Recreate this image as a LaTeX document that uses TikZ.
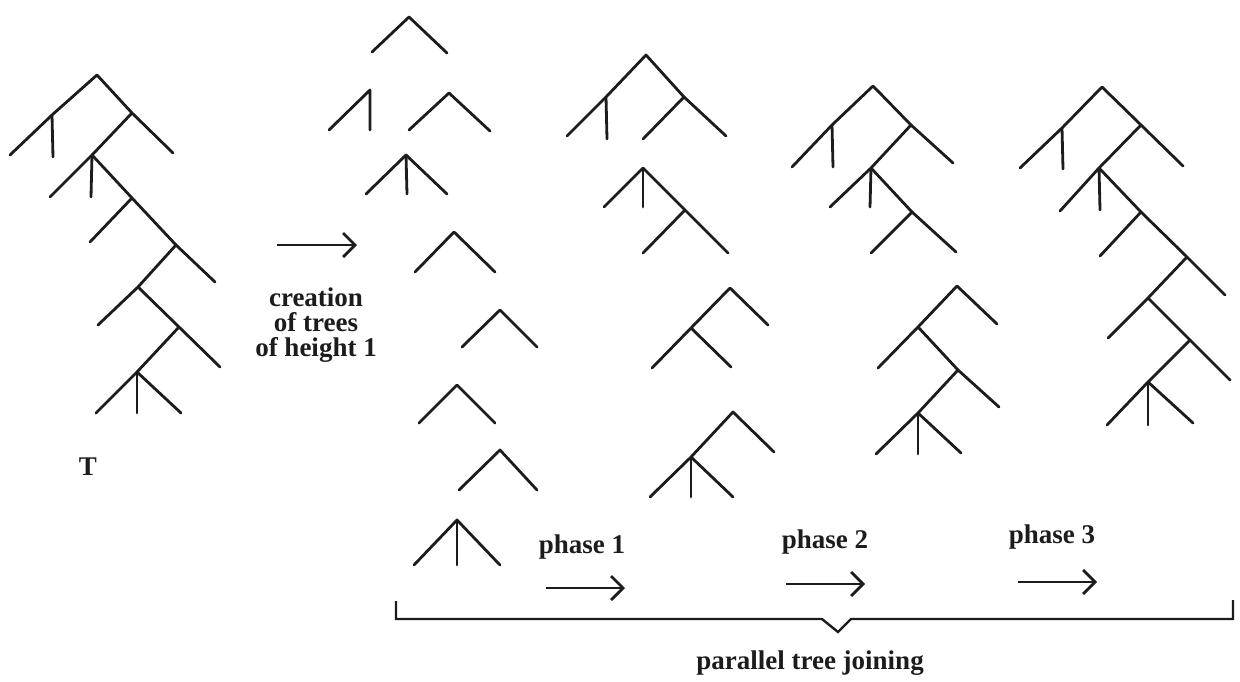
\documentclass[tikz,border=0pt]{standalone}
\usepackage{fontspec}
\setmainfont{Liberation Serif}
\usetikzlibrary{arrows.meta}
\definecolor{ink}{HTML}{1C1C1C}
\begin{document}
\begin{tikzpicture}[x=0.5pt,y=-0.5pt,
  edge/.style={draw=ink,line width=1.4pt,line cap=round,line join=round},
  lbl/.style={font=\bfseries\fontsize{13.5}{12.5}\selectfont,text=ink,inner sep=0pt,align=center},
  arr/.style={draw=ink,line width=1.4pt,-{Straight Barb[length=6pt,width=12pt]}},
  bracket/.style={draw=ink,line width=1.2pt,line join=miter}]
\useasboundingbox (0,0) rectangle (1240,681);

% ---------- tree T ----------
\coordinate (T-R) at (97,75);
\coordinate (T-A) at (52,115);  \coordinate (T-A1) at (10,155); \coordinate (T-A2) at (53,157);
\coordinate (T-B) at (132,113); \coordinate (T-B1) at (173,153);
\coordinate (T-C) at (92,155);  \coordinate (T-C1) at (50,197); \coordinate (T-C2) at (91,197);
\coordinate (T-D) at (132,198); \coordinate (T-D1) at (90,242);
\coordinate (T-E) at (176,245); \coordinate (T-E1) at (215,282);
\coordinate (T-F) at (138,287); \coordinate (T-F1) at (98,325);
\coordinate (T-G) at (179,327); \coordinate (T-G1) at (220,367);
\coordinate (T-H) at (137,372); \coordinate (T-H1) at (96,413); \coordinate (T-H2) at (137,413); \coordinate (T-H3) at (181,413);
\draw[edge] (T-A1) -- (T-A) -- (T-R) -- (T-B) -- (T-B1);
\draw[edge] (T-A) -- (T-A2);
\draw[edge] (T-B) -- (T-C) -- (T-C1);
\draw[edge] (T-C) -- (T-C2);
\draw[edge] (T-C) -- (T-D) -- (T-E) -- (T-E1);
\draw[edge] (T-D) -- (T-D1);
\draw[edge] (T-E) -- (T-F) -- (T-F1);
\draw[edge] (T-F) -- (T-G) -- (T-G1);
\draw[edge] (T-G) -- (T-H) -- (T-H1);
\draw[edge] (T-H) -- (T-H2);
\draw[edge] (T-H) -- (T-H3);
\node[lbl] (Tlabel) at (88,467) {T};

% ---------- creation arrow ----------
\coordinate (c0) at (277,245); \coordinate (c1) at (357,245);
\draw[arr] (c0) -- (c1);
\node[lbl] (creation) at (316,325) {creation\\of trees\\of height 1};

% ---------- trees of height 1 ----------
\coordinate (h1) at (409,17);  \coordinate (h1a) at (372,52);  \coordinate (h1b) at (447,53);
\draw[edge] (h1a) -- (h1) -- (h1b);
\coordinate (h2) at (370,90);  \coordinate (h2a) at (329,130); \coordinate (h2b) at (370,130);
\draw[edge] (h2a) -- (h2) -- (h2b);
\coordinate (h3) at (449,93);  \coordinate (h3a) at (409,130); \coordinate (h3b) at (490,131);
\draw[edge] (h3a) -- (h3) -- (h3b);
\coordinate (h4) at (406,155); \coordinate (h4a) at (366,194); \coordinate (h4b) at (407,194); \coordinate (h4c) at (447,194);
\draw[edge] (h4a) -- (h4) -- (h4c); \draw[edge] (h4) -- (h4b);
\coordinate (h5) at (454,232); \coordinate (h5a) at (415,272); \coordinate (h5b) at (495,272);
\draw[edge] (h5a) -- (h5) -- (h5b);
\coordinate (h6) at (500,310); \coordinate (h6a) at (462,347); \coordinate (h6b) at (537,347);
\draw[edge] (h6a) -- (h6) -- (h6b);
\coordinate (h7) at (457,385); \coordinate (h7a) at (419,423); \coordinate (h7b) at (495,423);
\draw[edge] (h7a) -- (h7) -- (h7b);
\coordinate (h8) at (500,450); \coordinate (h8a) at (459,490); \coordinate (h8b) at (537,490);
\draw[edge] (h8a) -- (h8) -- (h8b);
\coordinate (h9) at (457,520); \coordinate (h9a) at (414,565); \coordinate (h9b) at (457,565); \coordinate (h9c) at (500,565);
\draw[edge] (h9a) -- (h9) -- (h9c); \draw[edge] (h9) -- (h9b);

% ---------- after phase 1 ----------
\coordinate (pa-R) at (646,55);
\coordinate (pa-A) at (606,97); \coordinate (pa-A1) at (567,136); \coordinate (pa-A2) at (607,139);
\coordinate (pa-B) at (684,97); \coordinate (pa-B1) at (726,136); \coordinate (pa-B2) at (643,139);
\draw[edge] (pa-A1) -- (pa-A) -- (pa-R) -- (pa-B) -- (pa-B1);
\draw[edge] (pa-A) -- (pa-A2);
\draw[edge] (pa-B) -- (pa-B2);

\coordinate (pb-R) at (643,168); \coordinate (pb-R1) at (604,207); \coordinate (pb-R2) at (643,207);
\coordinate (pb-S) at (685,210); \coordinate (pb-S1) at (643,253); \coordinate (pb-S2) at (728,253);
\draw[edge] (pb-R1) -- (pb-R) -- (pb-S) -- (pb-S2);
\draw[edge] (pb-R) -- (pb-R2);
\draw[edge] (pb-S) -- (pb-S1);

\coordinate (pc-R) at (730,288); \coordinate (pc-R1) at (768,325);
\coordinate (pc-S) at (691,328); \coordinate (pc-S1) at (652,368); \coordinate (pc-S2) at (731,367);
\draw[edge] (pc-S1) -- (pc-S) -- (pc-R) -- (pc-R1);
\draw[edge] (pc-S) -- (pc-S2);

\coordinate (pd-R) at (733,412); \coordinate (pd-R1) at (774,452);
\coordinate (pd-S) at (691,457); \coordinate (pd-S1) at (650,497); \coordinate (pd-S2) at (691,497); \coordinate (pd-S3) at (733,497);
\draw[edge] (pd-S1) -- (pd-S) -- (pd-R) -- (pd-R1);
\draw[edge] (pd-S) -- (pd-S2);
\draw[edge] (pd-S) -- (pd-S3);

% ---------- after phase 2 ----------
\coordinate (qa-R) at (873,86);
\coordinate (qa-A) at (832,125); \coordinate (qa-A1) at (792,167); \coordinate (qa-A2) at (833,167);
\coordinate (qa-B) at (911,125); \coordinate (qa-B1) at (953,163);
\coordinate (qa-C) at (871,168); \coordinate (qa-C1) at (830,207); \coordinate (qa-C2) at (870,207);
\coordinate (qa-D) at (912,212); \coordinate (qa-D1) at (871,253); \coordinate (qa-D2) at (956,252);
\draw[edge] (qa-A1) -- (qa-A) -- (qa-R) -- (qa-B) -- (qa-B1);
\draw[edge] (qa-A) -- (qa-A2);
\draw[edge] (qa-B) -- (qa-C) -- (qa-C1);
\draw[edge] (qa-C) -- (qa-C2);
\draw[edge] (qa-C) -- (qa-D) -- (qa-D2);
\draw[edge] (qa-D) -- (qa-D1);

\coordinate (qb-E) at (957,286); \coordinate (qb-E1) at (997,324);
\coordinate (qb-F) at (918,327); \coordinate (qb-F1) at (878,368);
\coordinate (qb-G) at (958,370); \coordinate (qb-G1) at (999,407);
\coordinate (qb-H) at (918,413); \coordinate (qb-H1) at (876,454); \coordinate (qb-H2) at (918,454); \coordinate (qb-H3) at (961,453);
\draw[edge] (qb-F1) -- (qb-F) -- (qb-E) -- (qb-E1);
\draw[edge] (qb-F) -- (qb-G) -- (qb-G1);
\draw[edge] (qb-G) -- (qb-H) -- (qb-H1);
\draw[edge] (qb-H) -- (qb-H2);
\draw[edge] (qb-H) -- (qb-H3);

% ---------- after phase 3 ----------
\coordinate (r-R) at (1102,87);
\coordinate (r-A) at (1062,128); \coordinate (r-A1) at (1020,168); \coordinate (r-A2) at (1063,169);
\coordinate (r-B) at (1141,125); \coordinate (r-B1) at (1183,166);
\coordinate (r-C) at (1099,168); \coordinate (r-C1) at (1060,211); \coordinate (r-C2) at (1100,210);
\coordinate (r-D) at (1141,212); \coordinate (r-D1) at (1100,256);
\coordinate (r-E) at (1187,257); \coordinate (r-E1) at (1225,295);
\coordinate (r-F) at (1148,298); \coordinate (r-F1) at (1108,338);
\coordinate (r-G) at (1190,340); \coordinate (r-G1) at (1230,380);
\coordinate (r-H) at (1148,382); \coordinate (r-H1) at (1107,425); \coordinate (r-H2) at (1148,425); \coordinate (r-H3) at (1193,423);
\draw[edge] (r-A1) -- (r-A) -- (r-R) -- (r-B) -- (r-B1);
\draw[edge] (r-A) -- (r-A2);
\draw[edge] (r-B) -- (r-C) -- (r-C1);
\draw[edge] (r-C) -- (r-C2);
\draw[edge] (r-C) -- (r-D) -- (r-E) -- (r-E1);
\draw[edge] (r-D) -- (r-D1);
\draw[edge] (r-E) -- (r-F) -- (r-F1);
\draw[edge] (r-F) -- (r-G) -- (r-G1);
\draw[edge] (r-G) -- (r-H) -- (r-H1);
\draw[edge] (r-H) -- (r-H2);
\draw[edge] (r-H) -- (r-H3);

% ---------- phase labels and arrows ----------
\node[lbl] (ph1) at (582,547) {phase 1};
\node[lbl] (ph2) at (825,542) {phase 2};
\node[lbl] (ph3) at (1052,537) {phase 3};
\coordinate (a1s) at (546,588); \coordinate (a1e) at (625,588);
\coordinate (a2s) at (786,584); \coordinate (a2e) at (865,584);
\coordinate (a3s) at (1018,582); \coordinate (a3e) at (1097,582);
\draw[arr] (a1s) -- (a1e);
\draw[arr] (a2s) -- (a2e);
\draw[arr] (a3s) -- (a3e);

% ---------- bracket ----------
\coordinate (bL0) at (396,601); \coordinate (bL1) at (396,619);
\coordinate (bV0) at (822,619); \coordinate (bV) at (838,632); \coordinate (bV1) at (851,619);
\coordinate (bR1) at (1233,619); \coordinate (bR0) at (1233,600);
\draw[bracket] (bL0) -- (bL1) -- (bV0) -- (bV) -- (bV1) -- (bR1) -- (bR0);
\node[lbl] (ptj) at (810,663) {parallel tree joining};
\end{tikzpicture}
\end{document}
